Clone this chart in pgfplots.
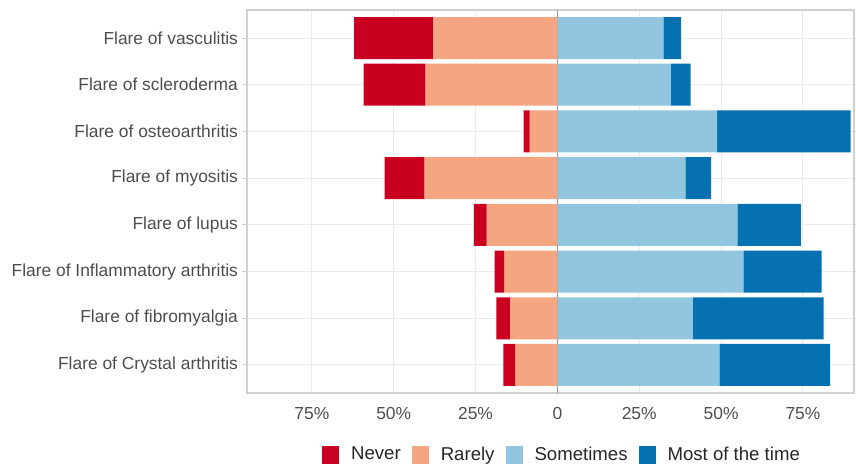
\documentclass[border=0pt]{standalone}
\usepackage{pgfplots}
\pgfplotsset{compat=1.18}
\usepackage{pgfplotstable}
\usepackage{fontspec}
\setmainfont{Liberation Sans}
\definecolor{cNever}{HTML}{CA0020}
\definecolor{cRarely}{HTML}{F4A582}
\definecolor{cSometimes}{HTML}{92C5DE}
\definecolor{cMost}{HTML}{0571B0}
\definecolor{txt}{HTML}{4D4D4D}
\definecolor{gridc}{HTML}{EBEBEB}
\definecolor{borderc}{HTML}{D0D0D0}
% y: 1 = bottom category ... 8 = top category
% offset = -(never + rarely): left edge of each bar
\pgfplotstableread{
y offset never rarely sometimes most
8 -62.1 24.1 38.0 32.4 5.4
7 -59.2 18.9 40.3 34.7 6.0
6 -10.3 1.8 8.5 48.8 40.8
5 -52.8 12.2 40.6 39.1 7.9
4 -25.5 3.9 21.6 55.0 19.4
3 -19.2 2.9 16.3 56.8 23.9
2 -18.6 4.1 14.5 41.4 39.9
1 -16.5 3.6 12.9 49.5 33.8
}\datatable
\begin{document}
\begin{tikzpicture}
\useasboundingbox (-123.5pt,-36pt) rectangle (304.5pt,196.5pt);
\begin{axis}[
  at={(0,0)}, anchor=south west,
  scale only axis,
  width=303.5pt, height=191.5pt,
  xbar stacked,
  stack negative=on previous,
  bar width=0.9,
  xmin=-94.8, xmax=90.6,
  ymin=0.4, ymax=8.6,
  xtick={-75,-50,-25,0,25,50,75},
  xticklabels={75\%,50\%,25\%,0,25\%,50\%,75\%},
  ytick={1,2,3,4,5,6,7,8},
  yticklabels={Flare of Crystal arthritis,Flare of fibromyalgia,Flare of Inflammatory arthritis,Flare of lupus,Flare of myositis,Flare of osteoarthritis,Flare of scleroderma,Flare of vasculitis},
  /pgf/number format/assume math mode=true,
  ticklabel style={font=\fontsize{8.7}{10}\selectfont, text=txt},
  xtick style={draw=none},
  ytick style={draw=borderc, line width=0.5pt},
  tick align=outside,
  major tick length=2.5pt,
  xticklabel style={yshift=-1pt},
  yticklabel style={xshift=1.5pt},
  xmajorgrids, ymajorgrids,
  grid style={gridc, line width=0.5pt},
  axis line style={borderc, line width=0.6pt},
  extra x ticks={0},
  extra x tick labels={},
  extra x tick style={grid style={color=black!40, line width=0.5pt}},
  legend columns=4,
  legend style={at={(0.519,-0.162)}, anchor=center, draw=none, fill=none,
    font=\fontsize{9.3}{10}\selectfont, text=black!85,
    /tikz/every odd column/.append style={column sep=5pt},
    /tikz/every even column/.append style={column sep=4.5pt},
    nodes={inner sep=1pt}},
  legend image code/.code={\fill[#1] (0pt,-4.5pt) rectangle (8.5pt,4.5pt);},
  every axis plot/.append style={draw=none},
]
\addplot[fill=none, draw=none, forget plot] table[x=offset, y=y] {\datatable};
\addplot[fill=cNever] table[x=never, y=y] {\datatable};
\addplot[fill=cRarely] table[x=rarely, y=y] {\datatable};
\addplot[fill=cSometimes] table[x=sometimes, y=y] {\datatable};
\addplot[fill=cMost] table[x=most, y=y] {\datatable};
\legend{Never,Rarely,Sometimes,Most of the time}
\end{axis}
\end{tikzpicture}
\end{document}
